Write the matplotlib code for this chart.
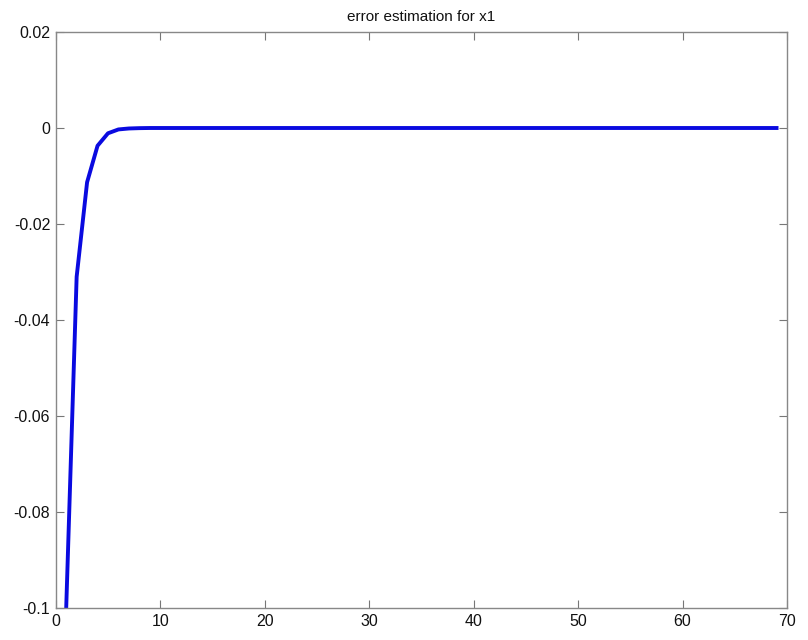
import matplotlib

matplotlib.use("Agg")
import matplotlib.pyplot as plt
from matplotlib.ticker import FuncFormatter
import numpy as np

plt.rcParams["font.family"] = ["Liberation Sans", "DejaVu Sans"]
plt.rcParams["axes.unicode_minus"] = False

# error of x1 per step (steps 1..69)
STEPS = list(range(1, 70))
ERR_HEAD = [-0.1, -0.031, -0.0113, -0.0037, -0.0011, -0.0003, -0.0001, -0.00003]
ERR_TAIL = [0.0] * (len(STEPS) - len(ERR_HEAD))
ERR = ERR_HEAD + ERR_TAIL

XTICKS = [0, 10, 20, 30, 40, 50, 60, 70]
YTICKS = [-0.1, -0.08, -0.06, -0.04, -0.02, 0, 0.02]

fig = plt.figure(figsize=(8.08, 6.4), dpi=100)
ax = fig.add_axes([0.069, 0.05, 0.905, 0.9])
ax.plot(STEPS, ERR, color="#0a0ae0", lw=2.8, solid_joinstyle="round")

ax.set_xlim(0, 70)
ax.set_ylim(-0.1, 0.02)
ax.set_xticks(XTICKS)
ax.set_yticks(YTICKS)
ax.yaxis.set_major_formatter(FuncFormatter(lambda v, _: "%g" % round(v, 4)))
ax.tick_params(direction="in", top=True, right=True, length=6, width=0.8,
               color="#777777", labelsize=11.5, labelcolor="#111111", pad=4)
for s in ax.spines.values():
    s.set_color("#888888")
    s.set_linewidth(1.0)
ax.set_title("error estimation for x1", fontsize=11, color="#111111", pad=8)

fig.savefig("out.png", dpi=100)
